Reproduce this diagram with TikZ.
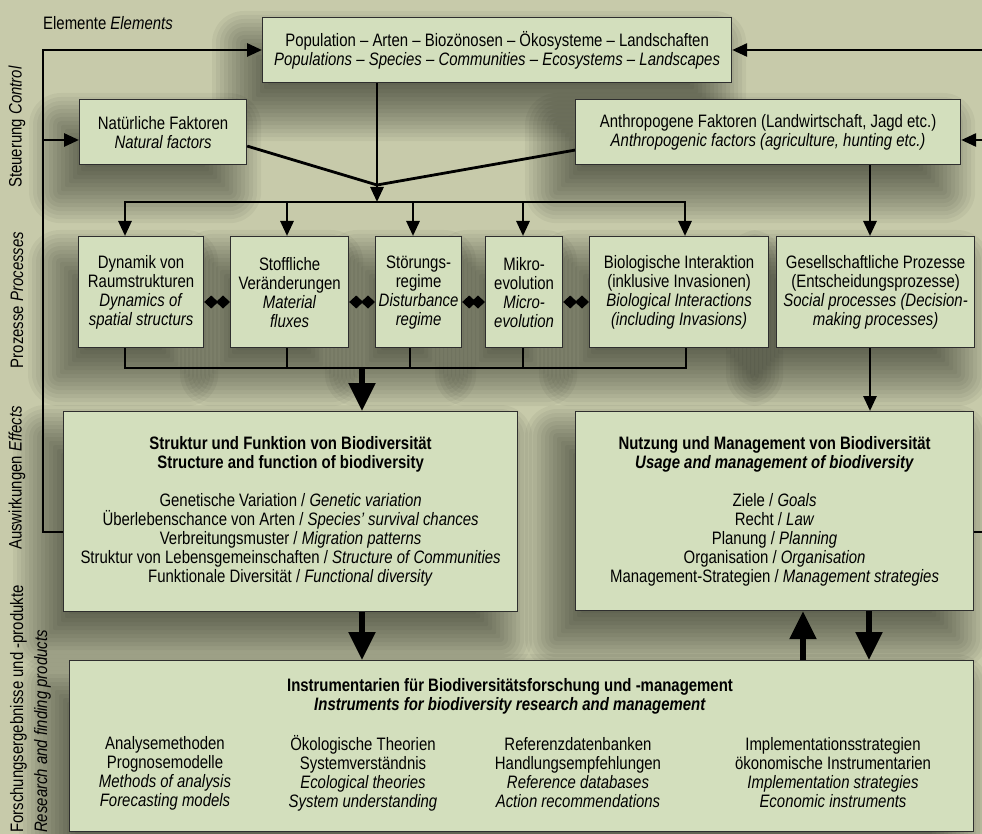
\documentclass[tikz,border=0pt]{standalone}
\usepackage{fontspec}
\setmainfont[FakeStretch=0.83]{Liberation Sans}
\usepackage{xcolor}
\usetikzlibrary{arrows.meta}
\usetikzlibrary{calc}
\usetikzlibrary{backgrounds}
\definecolor{bgColor}{HTML}{C7CAAA}
\definecolor{boxColor}{HTML}{D3DFBD}
\definecolor{boxLineColor}{HTML}{2E2E2E}
\definecolor{linkColor}{HTML}{000000}
\definecolor{shadowColor}{HTML}{000000}
\def\textPop{Population -- Arten -- Biozönosen -- Ökosysteme -- Landschaften\\
\textit{Populations -- Species -- Communities -- Ecosystems -- Landscapes}}
\def\textStruk{\textbf{Struktur und Funktion von Biodiversität}\\
\textbf{Structure and function of biodiversity}\\[19pt]
Genetische Variation / \textit{Genetic variation}\\
Überlebenschance von Arten / \textit{Species' survival chances}\\
Verbreitungsmuster / \textit{Migration patterns}\\
Struktur von Lebensgemeinschaften / \textit{Structure of Communities}\\
Funktionale Diversität / \textit{Functional diversity}}
\def\textNutz{\textbf{Nutzung und Management von Biodiversität}\\
\textbf{\textit{Usage and management of biodiversity}}\\[19pt]
Ziele / \textit{Goals}\\
Recht / \textit{Law}\\
Planung / \textit{Planning}\\
Organisation / \textit{Organisation}\\
Management-Strategien / \textit{Management strategies}}
\def\textInstr{\textbf{Instrumentarien für Biodiversitätsforschung und -management}\\
\textbf{\textit{Instruments for biodiversity research and management}}}
% soft shadow below left of a box, built from stacked see-through rectangles
\newcommand\dropShadow[1]{%
  \foreach \k in {0,...,15}{%
    \pgfmathsetmacro\e{32-4*\k}%
    \pgfmathsetmacro\r{max(\e,2)}%
    \fill[shadowColor, opacity=0.045, rounded corners=\r pt]
      ($(#1.north west)+(-18-\e,26-\e)$) rectangle ($(#1.south east)+(-18+\e,26+\e)$);
  }}

\begin{document}
\begin{tikzpicture}[x=1pt,y=-1pt,
  box/.style={draw=boxLineColor, line width=1.2pt, fill=boxColor, inner sep=0pt,
    anchor=north west, align=center, font=\fontsize{18pt}{19pt}\selectfont},
  txt/.style={align=center, inner sep=0pt, font=\fontsize{18pt}{19pt}\selectfont},
  side/.style={rotate=90, inner sep=0pt, font=\fontsize{18pt}{19pt}\selectfont},
  link/.style={draw=linkColor, line width=2.8pt},
  arr/.style={-{Triangle[length=15pt,width=13pt]}},
  bigarr/.style={draw=linkColor, line width=5.5pt, -{Triangle[length=28pt,width=26pt]}},
  dia/.style={draw=linkColor, line width=2pt,
    {Diamond[length=14pt,width=13pt]}-{Diamond[length=14pt,width=13pt]}}]

\useasboundingbox (0,0) rectangle (982,834);

% box layer
\node[box, minimum width=469pt, minimum height=65pt] (pop) at (262,17) {\textPop};

\node[box, minimum width=167pt, minimum height=65pt] (nat) at (79,99)
{Natürliche Faktoren\\ \textit{Natural factors}};
\node[box, minimum width=385pt, minimum height=65pt] (anth) at (575,99)
{Anthropogene Faktoren (Landwirtschaft, Jagd etc.)\\
\textit{Anthropogenic factors (agriculture, hunting etc.)}};

\node[box, minimum width=125pt, minimum height=111pt] (dyn) at (78,236)
{Dynamik von\\ Raumstrukturen\\ \textit{Dynamics of}\\ \textit{spatial structurs}};
\node[box, minimum width=118pt, minimum height=111pt] (stoff) at (230,236)
{Stoffliche\\ Veränderungen\\ \textit{Material}\\ \textit{fluxes}};
\node[box, minimum width=86pt, minimum height=111pt] (stoer) at (375,236)
{Störungs-\\ regime\\ \textit{Disturbance}\\ \textit{regime}};
\node[box, minimum width=77pt, minimum height=111pt] (mikro) at (485,236)
{Mikro-\\ evolution\\ \textit{Micro-}\\ \textit{evolution}};
\node[box, minimum width=179pt, minimum height=111pt] (bio) at (589,236)
{Biologische Interaktion\\ (inklusive Invasionen)\\
\textit{Biological Interactions}\\ \textit{(including Invasions)}};
\node[box, minimum width=198pt, minimum height=111pt] (ges) at (776,236)
{Gesellschaftliche Prozesse\\ (Entscheidungsprozesse)\\
\textit{Social processes (Decision-}\\ \textit{making processes)}};

\node[box, minimum width=454pt, minimum height=200pt] (struk) at (63,411) {\textStruk};
\node[box, minimum width=398pt, minimum height=199pt] (nutz) at (575,411) {\textNutz};

\node[box, minimum width=904pt, minimum height=171pt] (instr) at (69,660) {};

% shadow layer
\begin{scope}[on background layer]
\fill[bgColor] (0,0) rectangle (982,834);
\foreach \n in {pop, nat, anth, dyn, stoff, stoer, mikro, bio, ges, struk, nutz, instr}
  \dropShadow{\n};
\end{scope}

% label layer
\node[txt] (instrTitle) at (510,696) {\textInstr};
\node[txt] (instrA) at (165,773)
{Analysemethoden\\ Prognosemodelle\\ \textit{Methods of analysis}\\ \textit{Forecasting models}};
\node[txt] (instrB) at (363,773)
{Ökologische Theorien\\ Systemverständnis\\ \textit{Ecological theories}\\ \textit{System understanding}};
\node[txt] (instrC) at (578,773)
{Referenzdatenbanken\\ Handlungsempfehlungen\\ \textit{Reference databases}\\ \textit{Action recommendations}};
\node[txt] (instrD) at (833,773)
{Implementationsstrategien\\ ökonomische Instrumentarien\\ \textit{Implementation strategies}\\ \textit{Economic instruments}};

\node[txt, anchor=west] (elem) at (43,23) {Elemente \textit{Elements}};
\node[side] (ctrl) at (17,127) {Steuerung \textit{Control}};
\node[side] (proc) at (17,300) {Prozesse \textit{Processes}};
\node[side] (eff) at (17,478) {Auswirkungen \textit{Effects}};
\node[side, align=left, anchor=north west] (res) at (10,833)
{Forschungsergebnisse und -produkte\\[5pt] \textit{Research and finding products}};

% link layer
\coordinate (merge) at (377,185);
\coordinate (split) at (377,202);
\coordinate (collect) at (362,368);
\coordinate (lTop) at (43,50);
\coordinate (lMid) at (43,140);
\coordinate (lBot) at (43,532);
\coordinate (rTop) at (990,50);
\coordinate (rMid) at (990,140);
\coordinate (rBot) at (990,532);

\draw[link] ([yshift=-14pt]nat.east) -- (merge);
\draw[link] ([yshift=-18pt]anth.west) -- (merge);
\draw[link, arr] (merge |- pop.south) -- (split);

\draw[link, arr] (split) -| (125,0 |- dyn.north);
\draw[link, arr] (split) -| (685,0 |- bio.north);
\foreach \n/\x in {stoff/287, stoer/413, mikro/523}
  \draw[link, arr] (\x,202) -- (\x,0 |- \n.north);

\foreach \a/\b in {dyn/stoff, stoff/stoer, stoer/mikro, mikro/bio}
  \draw[dia] (\a.east |- 0,302) -- (\b.west |- 0,302);

\draw[link] (125,0 |- dyn.south) |- (collect) -| (686,0 |- bio.south);
\foreach \n/\x in {stoff/287, stoer/410, mikro/523}
  \draw[link] (\x,0 |- \n.south) -- (\x,368);
\draw[bigarr] (collect) -- (collect |- struk.north);

\draw[link, arr] (870,0 |- anth.south) -- (870,0 |- ges.north);
\draw[link, arr] (870,0 |- ges.south) -- (870,0 |- nutz.north);

\draw[bigarr] (362,0 |- struk.south) -- (362,0 |- instr.north);
\draw[bigarr] (803,0 |- instr.north) -- (803,0 |- nutz.south);
\draw[bigarr] (869,0 |- nutz.south) -- (869,0 |- instr.north);

\draw[link, arr] (struk.west |- lBot) -- (lBot) -- (lTop) -- (pop.west |- lTop);
\draw[link, arr] (lMid) -- (nat.west |- lMid);
\draw[link, arr] (nutz.east |- rBot) -- (rBot) -- (rTop) -- (pop.east |- rTop);
\draw[link, arr] (rMid) -- (anth.east |- rMid);

\end{tikzpicture}
\end{document}
